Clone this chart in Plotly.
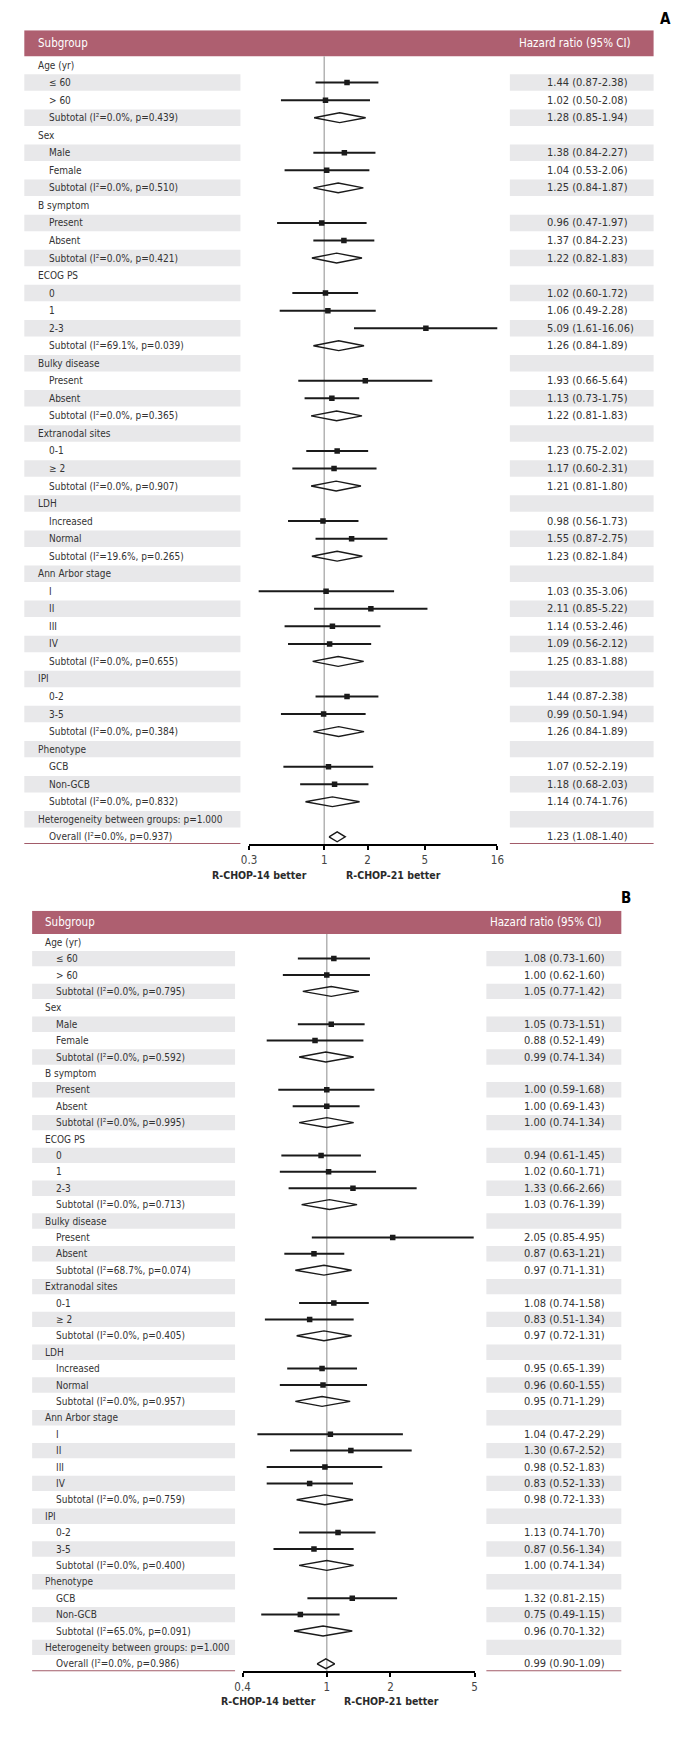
import plotly.graph_objects as go
import math

W, H = 679, 1746

kinds = ["g", "s", "s", "t", "g", "s", "s", "t", "g", "s", "s", "t",
         "g", "s", "s", "s", "t", "g", "s", "s", "t", "g", "s", "s", "t",
         "g", "s", "s", "t", "g", "s", "s", "s", "s", "t", "g", "s", "s", "t",
         "g", "s", "s", "t", "h", "o"]

labels_a = ["Age (yr)", "≤ 60", "> 60", "Subtotal (I²=0.0%, p=0.439)",
            "Sex", "Male", "Female", "Subtotal (I²=0.0%, p=0.510)",
            "B symptom", "Present", "Absent", "Subtotal (I²=0.0%, p=0.421)",
            "ECOG PS", "0", "1", "2-3", "Subtotal (I²=69.1%, p=0.039)",
            "Bulky disease", "Present", "Absent", "Subtotal (I²=0.0%, p=0.365)",
            "Extranodal sites", "0-1", "≥ 2", "Subtotal (I²=0.0%, p=0.907)",
            "LDH", "Increased", "Normal", "Subtotal (I²=19.6%, p=0.265)",
            "Ann Arbor stage", "I", "II", "III", "IV", "Subtotal (I²=0.0%, p=0.655)",
            "IPI", "0-2", "3-5", "Subtotal (I²=0.0%, p=0.384)",
            "Phenotype", "GCB", "Non-GCB", "Subtotal (I²=0.0%, p=0.832)",
            "Heterogeneity between groups: p=1.000", "Overall (I²=0.0%, p=0.937)"]

hr_a = [None, 1.44, 1.02, 1.28, None, 1.38, 1.04, 1.25, None, 0.96, 1.37, 1.22,
        None, 1.02, 1.06, 5.09, 1.26, None, 1.93, 1.13, 1.22, None, 1.23, 1.17, 1.21,
        None, 0.98, 1.55, 1.23, None, 1.03, 2.11, 1.14, 1.09, 1.25, None, 1.44, 0.99, 1.26,
        None, 1.07, 1.18, 1.14, None, 1.23]
lo_a = [None, 0.87, 0.50, 0.85, None, 0.84, 0.53, 0.84, None, 0.47, 0.84, 0.82,
        None, 0.60, 0.49, 1.61, 0.84, None, 0.66, 0.73, 0.81, None, 0.75, 0.60, 0.81,
        None, 0.56, 0.87, 0.82, None, 0.35, 0.85, 0.53, 0.56, 0.83, None, 0.87, 0.50, 0.84,
        None, 0.52, 0.68, 0.74, None, 1.08]
hi_a = [None, 2.38, 2.08, 1.94, None, 2.27, 2.06, 1.87, None, 1.97, 2.23, 1.83,
        None, 1.72, 2.28, 16.06, 1.89, None, 5.64, 1.75, 1.83, None, 2.02, 2.31, 1.80,
        None, 1.73, 2.75, 1.84, None, 3.06, 5.22, 2.46, 2.12, 1.88, None, 2.38, 1.94, 1.89,
        None, 2.19, 2.03, 1.76, None, 1.40]

labels_b = ["Age (yr)", "≤ 60", "> 60", "Subtotal (I²=0.0%, p=0.795)",
            "Sex", "Male", "Female", "Subtotal (I²=0.0%, p=0.592)",
            "B symptom", "Present", "Absent", "Subtotal (I²=0.0%, p=0.995)",
            "ECOG PS", "0", "1", "2-3", "Subtotal (I²=0.0%, p=0.713)",
            "Bulky disease", "Present", "Absent", "Subtotal (I²=68.7%, p=0.074)",
            "Extranodal sites", "0-1", "≥ 2", "Subtotal (I²=0.0%, p=0.405)",
            "LDH", "Increased", "Normal", "Subtotal (I²=0.0%, p=0.957)",
            "Ann Arbor stage", "I", "II", "III", "IV", "Subtotal (I²=0.0%, p=0.759)",
            "IPI", "0-2", "3-5", "Subtotal (I²=0.0%, p=0.400)",
            "Phenotype", "GCB", "Non-GCB", "Subtotal (I²=65.0%, p=0.091)",
            "Heterogeneity between groups: p=1.000", "Overall (I²=0.0%, p=0.986)"]

hr_b = [None, 1.08, 1.00, 1.05, None, 1.05, 0.88, 0.99, None, 1.00, 1.00, 1.00,
        None, 0.94, 1.02, 1.33, 1.03, None, 2.05, 0.87, 0.97, None, 1.08, 0.83, 0.97,
        None, 0.95, 0.96, 0.95, None, 1.04, 1.30, 0.98, 0.83, 0.98, None, 1.13, 0.87, 1.00,
        None, 1.32, 0.75, 0.96, None, 0.99]
lo_b = [None, 0.73, 0.62, 0.77, None, 0.73, 0.52, 0.74, None, 0.59, 0.69, 0.74,
        None, 0.61, 0.60, 0.66, 0.76, None, 0.85, 0.63, 0.71, None, 0.74, 0.51, 0.72,
        None, 0.65, 0.60, 0.71, None, 0.47, 0.67, 0.52, 0.52, 0.72, None, 0.74, 0.56, 0.74,
        None, 0.81, 0.49, 0.70, None, 0.90]
hi_b = [None, 1.60, 1.60, 1.42, None, 1.51, 1.49, 1.34, None, 1.68, 1.43, 1.34,
        None, 1.45, 1.71, 2.66, 1.39, None, 4.95, 1.21, 1.31, None, 1.58, 1.34, 1.31,
        None, 1.39, 1.55, 1.29, None, 2.29, 2.52, 1.83, 1.33, 1.33, None, 1.70, 1.34, 1.34,
        None, 2.15, 1.15, 1.32, None, 1.09]

ticks_a = [0.3, 1, 2, 5, 16]
ticks_b = [0.4, 1, 2, 5]

FONT = "'Liberation Sans Narrow', 'Arial Narrow', 'DejaVu Sans Condensed', 'Roboto Condensed', 'Liberation Sans', Arial, sans-serif"
TXT = "#333333"
MAROON = "#ae5f70"
SHADE = "#e8e8ea"
LBL_SIZE = 10
NUM_SIZE = 11

fig = go.Figure()


def px(x):
    return x / W


def py(y):
    return 1 - y / H


def panel(idx, letter, labels, hr, lo, hi, ticks, g):
    xa = "x" if idx == 1 else "x2"
    ya = "y" if idx == 1 else "y2"
    n = len(labels)
    r_bot = (g["axis_y"] - g["row0"]) / g["rh"]
    r_top = (g["head_top"] - g["row0"]) / g["rh"]
    ax_suffix = "" if idx == 1 else "2"
    fig.update_layout(**{
        "xaxis" + ax_suffix: dict(
            domain=[px(g["ax0"]), px(g["ax1"])], anchor=ya, type="log",
            range=[math.log10(ticks[0]), math.log10(ticks[-1])],
            tickvals=ticks, ticktext=[str(t) for t in ticks],
            showline=True, linecolor="black", linewidth=2,
            ticks="outside", ticklen=4, tickwidth=2, tickcolor="black",
            showgrid=False, zeroline=False,
            tickfont=dict(family=FONT, size=11.5, color="#444444"), fixedrange=True),
        "yaxis" + ax_suffix: dict(
            domain=[py(g["axis_y"]), py(g["head_top"])], anchor=xa,
            range=[r_bot, r_top], visible=False, fixedrange=True),
    })
    shapes = []
    shapes.append(dict(type="rect", xref="paper", yref=ya, x0=px(g["hl"]), x1=px(g["hr"]),
                       y0=r_top, y1=-0.5, fillcolor=MAROON, line=dict(width=0), layer="below"))
    for i in range(n):
        if i % 2 == 1:
            for (a, b) in [(g["hl"], g["ls"]), (g["rs"], g["hr"])]:
                shapes.append(dict(type="rect", xref="paper", yref=ya, x0=px(a), x1=px(b),
                                   y0=i - 0.47, y1=i + 0.47, fillcolor=SHADE,
                                   line=dict(width=0), layer="below"))
    for (a, b) in [(g["hl"], g["ls"]), (g["rs"], g["hr"])]:
        shapes.append(dict(type="line", xref="paper", yref=ya, x0=px(a), x1=px(b),
                           y0=r_bot, y1=r_bot, line=dict(color="#a25b69", width=2)))
    shapes.append(dict(type="line", xref=xa, yref=ya, x0=1, x1=1, y0=-0.5, y1=r_bot,
                       line=dict(color="#b3b3b3", width=1.5), layer="below"))
    for s in shapes:
        fig.add_shape(s)

    cx, cy, sx, sy = [], [], [], []
    dx, dy = [], []
    hd = g["dh"]
    for i in range(n):
        k = kinds[i]
        if k == "s":
            cx += [lo[i], hi[i], None]
            cy += [i, i, None]
            sx.append(hr[i])
            sy.append(i)
        elif k in ("t", "o"):
            dx += [lo[i], hr[i], hi[i], hr[i], lo[i], None]
            dy += [i, i - hd, i, i + hd, i, None]
    fig.add_trace(go.Scatter(x=cx, y=cy, mode="lines", line=dict(color="#1a1a1a", width=2),
                             xaxis=xa, yaxis=ya, hoverinfo="skip", showlegend=False))
    fig.add_trace(go.Scatter(x=sx, y=sy, mode="markers",
                             marker=dict(symbol="square", size=5.5, color="#1a1a1a"),
                             xaxis=xa, yaxis=ya, showlegend=False))
    fig.add_trace(go.Scatter(x=dx, y=dy, mode="lines", line=dict(color="#1a1a1a", width=1.4),
                             xaxis=xa, yaxis=ya, showlegend=False, hoverinfo="skip"))

    for i in range(n):
        k = kinds[i]
        xpos = g["tx_g"] if k in ("g", "h") else g["tx_i"]
        fig.add_annotation(x=px(xpos), y=i, xref="paper", yref=ya, text=labels[i],
                           showarrow=False, xanchor="left", yanchor="middle",
                           font=dict(family=FONT, size=LBL_SIZE, color=TXT))
        if hr[i] is not None:
            fig.add_annotation(x=px(g["dtx"]), y=i, xref="paper", yref=ya,
                               text=f"{hr[i]:.2f} ({lo[i]:.2f}-{hi[i]:.2f})",
                               showarrow=False, xanchor="left", yanchor="middle",
                               font=dict(family=FONT, size=NUM_SIZE, color=TXT))
    hy = (r_top - 0.5) / 2
    fig.add_annotation(x=px(g["tx_g"]), y=hy, xref="paper", yref=ya, text="Subgroup",
                       showarrow=False, xanchor="left", yanchor="middle",
                       font=dict(family=FONT, size=11.5, color="white"))
    fig.add_annotation(x=px(g["hrx"]), y=hy, xref="paper", yref=ya, text="Hazard ratio (95% CI)",
                       showarrow=False, xanchor="right", yanchor="middle",
                       font=dict(family=FONT, size=11.5, color="white"))
    fig.add_annotation(x=px(g["lx"]), y=py(g["ly"]), xref="paper", yref="paper", text=f"<b>{letter}</b>",
                       showarrow=False, xanchor="center", yanchor="middle",
                       font=dict(family=FONT, size=15, color="black"))
    for (xc, t) in [(g["f1"], "R-CHOP-14 better"), (g["f2"], "R-CHOP-21 better")]:
        fig.add_annotation(x=px(xc), y=py(g["fy"]), xref="paper", yref="paper", text=f"<b>{t}</b>",
                           showarrow=False, xanchor="center", yanchor="middle",
                           font=dict(family=FONT, size=10.5, color="#2a2a2a"))


geo_a = dict(head_top=22.3, row0=57.07, rh=17.54, axis_y=836.0, ax0=238.3, ax1=492.3,
             hl=8.5, hr=652.0, ls=229.5, rs=505.0, tx_g=20.0, tx_i=32.0, dtx=540.5, hrx=631.0,
             lx=664.0, ly=11.0, f1=248.7, f2=386.0, fy=866.7, dh=0.28)
geo_b = dict(head_top=902.7, row0=934.2, rh=16.4, axis_y=1663.3, ax0=231.7, ax1=469.0,
             hl=16.5, hr=619.0, ls=224.0, rs=481.0, tx_g=27.5, tx_i=39.0, dtx=517.0, hrx=601.0,
             lx=624.0, ly=890.0, f1=258.7, f2=383.7, fy=1693.3, dh=0.3)

panel(1, "A", labels_a, hr_a, lo_a, hi_a, ticks_a, geo_a)
panel(2, "B", labels_b, hr_b, lo_b, hi_b, ticks_b, geo_b)

fig.update_layout(width=W, height=H, margin=dict(l=0, r=0, t=0, b=0),
                  paper_bgcolor="white", plot_bgcolor="white", showlegend=False)

fig.write_html("out.html")
